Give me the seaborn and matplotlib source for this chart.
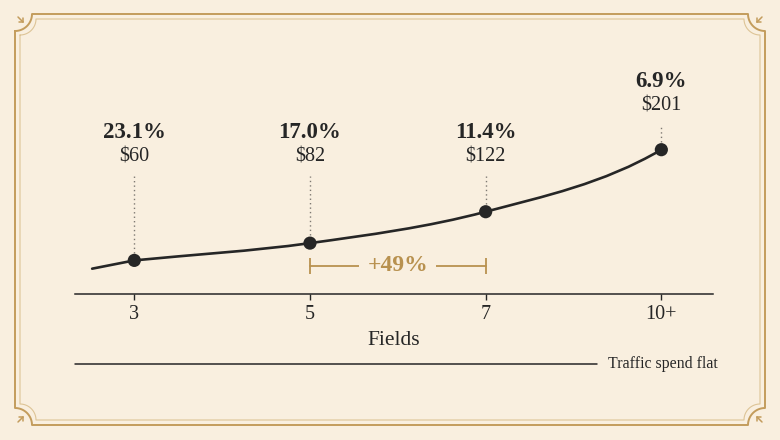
import numpy as np
import matplotlib.pyplot as plt
import seaborn as sns
from matplotlib.path import Path
from matplotlib.patches import PathPatch

# ── data ─────────────────────────────────────────────
fields = ['3', '5', '7', '10+']
cost = [60, 82, 122, 201]            # $ per conversion
conv_rate = [23.1, 17.0, 11.4, 6.9]  # conversion rate, %
footnote = 'Traffic spend flat'

BG = '#F9EFDF'
INK = '#262626'
GOLD = '#B8914F'
FRAME = '#C39C5C'

sns.set_theme(style='white')
plt.rcParams['font.family'] = ['Liberation Serif', 'DejaVu Serif']

fig = plt.figure(figsize=(7.8, 4.4), dpi=100, facecolor=BG)

# ── decorative frame (pixel coords) ──────────────────
bg = fig.add_axes([0, 0, 1, 1], zorder=0)
bg.set_xlim(0, 780)
bg.set_ylim(440, 0)
bg.axis('off')
bg.set_facecolor(BG)


def frame_path(x0, y0, x1, y1, r):
    # rectangle whose corners are cut by concave arcs centred on the corners
    t = np.linspace(np.pi / 2, 0, 20)
    pts = []
    for cx, cy, a0 in [(x0, y0, 0), (x1, y0, np.pi / 2),
                       (x1, y1, np.pi), (x0, y1, 1.5 * np.pi)]:
        ang = a0 + t
        pts.append(np.c_[cx + r * np.cos(ang), cy + r * np.sin(ang)])
    return np.vstack(pts + [pts[0][:1]])


outer = frame_path(15, 14, 765, 425, 17)
bg.plot(outer[:, 0], outer[:, 1], color=FRAME, lw=1.4)
ins = frame_path(20, 19, 760, 420, 16)
bg.plot(ins[:, 0], ins[:, 1], color='#DDC496', lw=0.8)

# tiny corner sprigs at all four corners
for sx, sy, cx, cy in [(1, 1, 15, 14), (-1, 1, 765, 14),
                       (-1, -1, 765, 425), (1, -1, 15, 425)]:
    kw = dict(color=FRAME, lw=1.1, solid_capstyle='round')
    bg.plot([cx + sx * 3, cx + sx * 8], [cy + sy * 3, cy + sy * 8], **kw)
    bg.plot([cx + sx * 8, cx + sx * 8], [cy + sy * 4, cy + sy * 8], **kw)
    bg.plot([cx + sx * 4, cx + sx * 8], [cy + sy * 8, cy + sy * 8], **kw)

# footnote rule
bg.plot([75, 597], [364, 364], color=INK, lw=1.1)
bg.text(608, 364, footnote, ha='left', va='center', fontsize=11.4, color=INK)

# ── main axes ────────────────────────────────────────
ax = fig.add_axes([75 / 780, 146 / 440, 638 / 780, 274 / 440], zorder=1)
ax.set_facecolor('none')
ax.set_xlim(-0.3375, 3.294)
ax.set_ylim(17.2, 366.2)
for side in ['top', 'left', 'right']:
    ax.spines[side].set_visible(False)
ax.spines['bottom'].set_color(INK)
ax.spines['bottom'].set_linewidth(1.1)
ax.set_xticks(range(len(fields)))
ax.set_xticklabels(fields)
ax.set_yticks([])
ax.tick_params(axis='x', direction='out', length=4.5, width=1, color=INK,
               labelsize=14.5, labelcolor=INK, pad=3.5, bottom=True)
ax.set_xlabel('Fields', fontsize=15.5, color=INK, labelpad=5)

x = np.arange(len(cost), dtype=float)
y = np.array(cost, dtype=float)

# smooth curve as cubic Bezier segments through the points
sec = np.diff(y)
slopes = np.empty_like(y)
slopes[0] = sec[0]
slopes[1:-1] = (y[2:] - y[:-2]) / 2
slopes[-1] = 1.65 * sec[-1]

lead = 0.24
verts = [(x[0] - lead, y[0] - lead * 44), (x[0], y[0])]
codes = [Path.MOVETO, Path.LINETO]
for i in range(len(x) - 1):
    verts += [(x[i] + 1 / 3, y[i] + slopes[i] / 3),
              (x[i + 1] - 1 / 3, y[i + 1] - slopes[i + 1] / 3),
              (x[i + 1], y[i + 1])]
    codes += [Path.CURVE4] * 3
ax.add_patch(PathPatch(Path(verts, codes), facecolor='none', edgecolor=INK,
                       lw=1.9, capstyle='round', zorder=3, clip_on=False))

sns.scatterplot(x=x, y=y, ax=ax, s=90, color=INK, edgecolor='none',
                zorder=4, clip_on=False, legend=False)

# labels above points
for xi, yi, c, r in zip(x, y, cost, conv_rate):
    dollar_y = max(192, yi + 56)
    ax.vlines(xi, yi + 10, dollar_y - 24, colors='#7E7972', lw=1,
              linestyles=(0, (1, 2.2)), zorder=2)
    ax.text(xi, dollar_y, f'${c}', ha='center', va='center', fontsize=14.5, color=INK)
    ax.text(xi, dollar_y + 31, f'{r:.1f}%', ha='center', va='center',
            fontsize=16.5, fontweight='bold', color=INK)

# bracket between 5 and 7 fields
by = 53
ax.plot([x[1], x[2]], [by, by], color=GOLD, lw=1.3, zorder=2)
ax.vlines([x[1], x[2]], by - 10, by + 10, colors=GOLD, lw=1.3, zorder=2)
jump = (cost[2] / cost[1] - 1) * 100
ax.text((x[1] + x[2]) / 2, by, f'+{jump:.0f}%', ha='center', va='center',
        fontsize=17, fontweight='bold', color=GOLD, zorder=3,
        bbox=dict(boxstyle='square,pad=0.35', facecolor=BG, edgecolor='none'))

fig.savefig('out.png', dpi=100, facecolor=BG)
